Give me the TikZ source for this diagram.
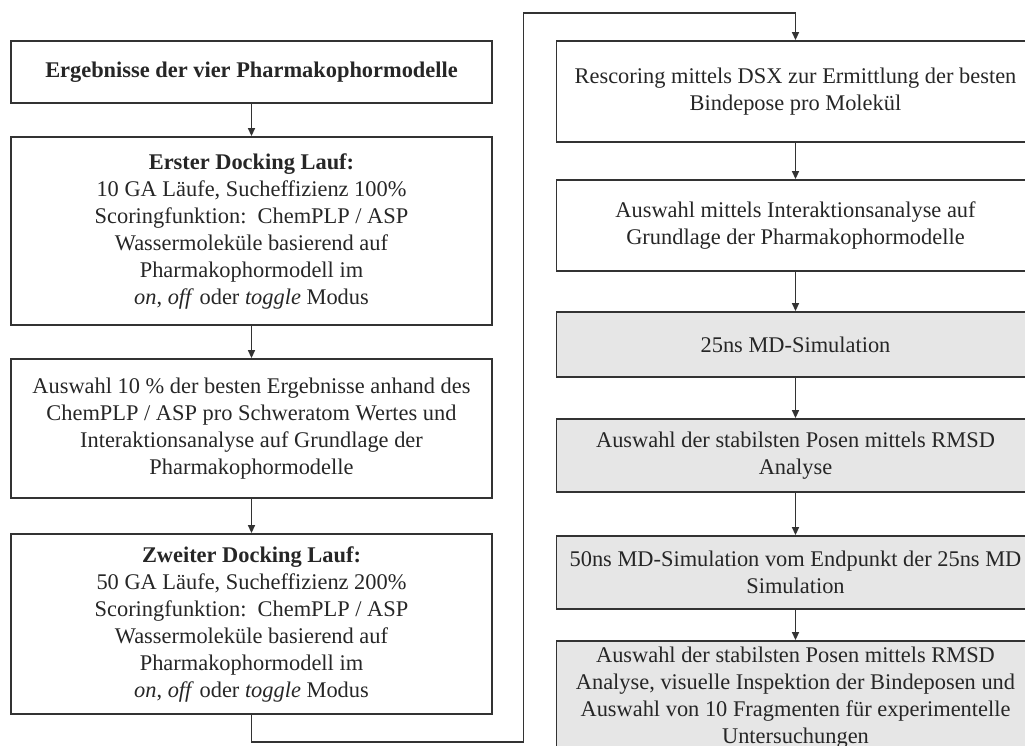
\documentclass[tikz,border=0pt]{standalone}
\usepackage{fontspec}
\setmainfont{Liberation Serif}
\usetikzlibrary{arrows.meta}
\definecolor{edge}{HTML}{333333}
\definecolor{boxgray}{HTML}{E6E6E6}
\begin{document}
\begin{tikzpicture}[x=1pt,y=-1pt,
  flowbox/.style={draw=edge,line width=1.8pt,rectangle,inner sep=0pt,align=center,
    font=\fontsize{22.4}{27}\selectfont,text=black!85},
  graybox/.style={flowbox,fill=boxgray},
  conn/.style={draw=edge,line width=1.4pt,-{Triangle[length=8pt,width=7pt]}},
  connplain/.style={draw=edge,line width=1.4pt}]
\useasboundingbox (0,0) rectangle (1025,746);
\clip (0,0) rectangle (1025,746);
% left column
\node[flowbox,minimum width=481pt,minimum height=62pt] (b1) at (251.5,72) {\textbf{Ergebnisse der vier Pharmakophormodelle}};
\node[flowbox,minimum width=481pt,minimum height=188pt] (b2) at (251.5,231) {\textbf{Erster Docking Lauf:}\\10 GA Läufe, Sucheffizienz 100\%\\Scoringfunktion:\ \ ChemPLP / ASP\\Wassermoleküle basierend auf\\Pharmakophormodell im\\\textit{on}, \textit{off} oder \textit{toggle} Modus};
\node[flowbox,minimum width=481pt,minimum height=139pt] (b3) at (251.5,428.5) {Auswahl 10 \% der besten Ergebnisse anhand des\\ChemPLP / ASP pro Schweratom Wertes und\\Interaktionsanalyse auf Grundlage der\\Pharmakophormodelle};
\node[flowbox,minimum width=481pt,minimum height=180pt] (b4) at (251.5,624) {\textbf{Zweiter Docking Lauf:}\\50 GA Läufe, Sucheffizienz 200\%\\Scoringfunktion:\ \ ChemPLP / ASP\\Wassermoleküle basierend auf\\Pharmakophormodell im\\\textit{on}, \textit{off} oder \textit{toggle} Modus};
% right column
\node[flowbox,minimum width=478pt,minimum height=101pt] (b5) at (795.5,91.5) {Rescoring mittels DSX zur Ermittlung der besten\\Bindepose pro Molekül};
\node[flowbox,minimum width=478pt,minimum height=91pt] (b6) at (795.5,225.5) {Auswahl mittels Interaktionsanalyse auf\\Grundlage der Pharmakophormodelle};
\node[graybox,minimum width=478pt,minimum height=65pt] (b7) at (795.5,344.5) {25ns MD-Simulation};
\node[graybox,minimum width=478pt,minimum height=73pt] (b8) at (795.5,455.5) {Auswahl der stabilsten Posen mittels RMSD\\Analyse};
\node[graybox,minimum width=478pt,minimum height=73pt] (b9) at (795.5,572.5) {50ns MD-Simulation vom Endpunkt der 25ns MD\\Simulation};
\node[graybox,minimum width=478pt,minimum height=114pt] (b10) at (795.5,698) {Auswahl der stabilsten Posen mittels RMSD\\Analyse, visuelle Inspektion der Bindeposen und\\Auswahl von 10 Fragmenten für experimentelle\\Untersuchungen};
% connectors
\draw[conn] (b1) -- (b2);
\draw[conn] (b2) -- (b3);
\draw[conn] (b3) -- (b4);
\coordinate (c1) at (251.5,742);
\coordinate (c2) at (523.5,742);
\coordinate (c3) at (523.5,13);
\coordinate (c4) at (795.5,13);
\draw[connplain] (b4.south) -- (c1) -- (c2) -- (c3) -- (c4);
\draw[conn] (c4) -- (b5.north);
\draw[conn] (b5) -- (b6);
\draw[conn] (b6) -- (b7);
\draw[conn] (b7) -- (b8);
\draw[conn] (b8) -- (b9);
\draw[conn] (b9) -- (b10);
\end{tikzpicture}
\end{document}
